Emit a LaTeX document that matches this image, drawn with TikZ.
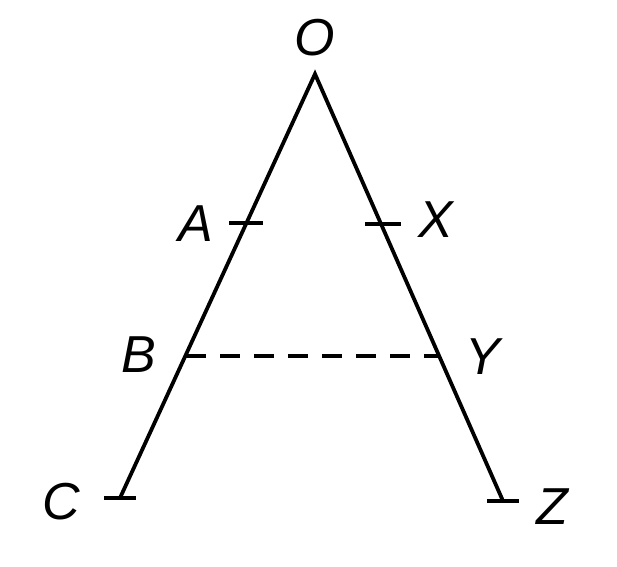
\documentclass[tikz,border=0pt]{standalone}
\usepackage{fontspec}
\setmainfont{Liberation Sans}
\begin{document}
\begin{tikzpicture}[x=0.5pt,y=-0.5pt,
  seg/.style={line width=1.9pt,line join=miter},
  tickmark/.style={line width=1.7pt},
  lbl/.style={font=\fontsize{26}{30}\selectfont\itshape,inner sep=0pt}]
\useasboundingbox[fill=white] (0,0) rectangle (617,567);
\coordinate (O) at (315,74);
\coordinate (C) at (120,498);
\coordinate (Z) at (503,501);
\coordinate (A) at (245,223);
\coordinate (X) at (381,224);
\coordinate (B) at (186,356);
\coordinate (Y) at (440,356);
\draw[seg] (C) -- (O) -- (Z);
\draw[tickmark] ([xshift=-8pt]A) -- ([xshift=9pt]A);
\draw[tickmark] ([xshift=-8pt]X) -- ([xshift=10pt]X);
\draw[tickmark] ([xshift=-8pt]C) -- ([xshift=8pt]C);
\draw[tickmark] ([xshift=-8pt]Z) -- ([xshift=8pt]Z);
\draw[line width=1.6pt,dash pattern=on 10pt off 7pt] (B) -- (Y);
\node[lbl] (lO) at (315,38) {O};
\node[lbl] (lA) at (196,224) {A};
\node[lbl] (lX) at (436,220) {X};
\node[lbl] (lB) at (139,355) {B};
\node[lbl] (lY) at (483,357) {Y};
\node[lbl] (lC) at (61,502) {C};
\node[lbl] (lZ) at (552,507) {Z};
\end{tikzpicture}
\end{document}
